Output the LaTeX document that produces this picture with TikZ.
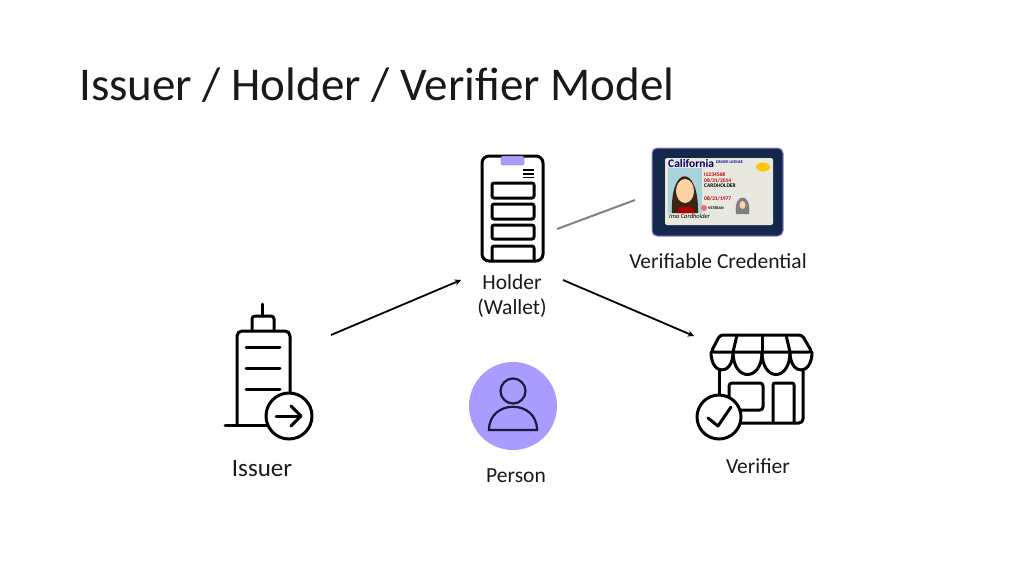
\documentclass[tikz,border=0pt]{standalone}
\usepackage{fontspec}
\setmainfont{Carlito}
\usetikzlibrary{arrows, positioning}
\definecolor{lavender}{HTML}{A99BFF}
\definecolor{navy}{HTML}{14284B}
\definecolor{inkline}{HTML}{1A1A3A}
\definecolor{cardface}{HTML}{E8E8DE}
\definecolor{photoblue}{HTML}{A9D3DC}
\tikzstyle{label} = [inner sep=0pt, align=center, text=black!90, font=\fontsize{21.5}{25}\selectfont]
\tikzstyle{icon} = [draw=black, line width=3pt, line join=round, line cap=round]
\tikzstyle{badge} = [icon, fill=white]
\tikzstyle{tiny} = [inner sep=0pt, anchor=west, font=\fontsize{5.5}{5.5}\selectfont\bfseries]
\tikzstyle{arrow} = [line width=1.8pt,->,>=stealth]
\begin{document}
\begin{tikzpicture}[x=1pt,y=-1pt]
    \useasboundingbox (0,0) rectangle (1024,576);
    \node (title) [inner sep=0pt, anchor=base west, text=black!90, font=\fontsize{47}{50}\selectfont] at (79,100) {Issuer / Holder / Verifier Model};
    % holder phone
    \draw [icon, rounded corners=7pt] (482,156) rectangle (543,261);
    \draw [draw=lavender!70!black, fill=lavender, rounded corners=2pt] (501,156) rectangle (524,165);
    \foreach \y in {170,174,177.5}
        \draw [black, line width=1.6pt] (523,\y) -- (534,\y);
    \foreach \y/\z in {183/198,204/219,225/239}
        \draw [icon, rounded corners=2pt] (492,\y) rectangle (534,\z);
    \draw [icon, rounded corners=2pt] (492,261) -- (492,246) -- (534,246) -- (534,261);
    \node (holder) [label] at (512,296) {Holder\\(Wallet)};
    % credential card
    \draw [draw=lavender!80!navy, fill=navy, line width=1pt, rounded corners=5pt] (652,148) rectangle (783,236);
    \fill [cardface, rounded corners=2pt] (665,158) rectangle (773,225);
    \fill [photoblue] (668,168) rectangle (702,213);
    \fill [black!70!brown] (672,213) .. controls (670,164) and (699,164) .. (698,213) -- cycle;
    \fill [red!70!black] (677,213) -- (679,207) -- (692,207) -- (695,213) -- cycle;
    \fill [orange!35!white] (685,191) ellipse (9 and 12);
    \fill [yellow!60!orange] (763,167) ellipse (7 and 4.5);
    \fill [black!50] (736,214) .. controls (733,192) and (752,192) .. (749,214) -- cycle;
    \fill [orange!35!white] (742.5,205) ellipse (3 and 4);
    \fill [red!60!white] (704,208) circle (3);
    \node (cardname) [tiny, text=blue!45!black, font=\fontsize{11.5}{11}\selectfont\bfseries] at (668,163.5) {California};
    \node (cardtype) [tiny, text=blue!60!black, font=\fontsize{4}{4}\selectfont\bfseries] at (716,162) {DRIVER LICENSE};
    \node (cardno) [tiny, text=red!70!black] at (704,175) {I1234568};
    \node (cardexp) [tiny, text=red!70!black] at (704,180.5) {08/31/2014};
    \node (cardholder) [tiny] at (704,186) {CARDHOLDER};
    \node (carddob) [tiny, text=red!70!black] at (704,199) {08/31/1977};
    \node (cardvet) [tiny, font=\fontsize{4}{4}\selectfont\bfseries] at (708,208) {VETERAN};
    \node (cardsign) [tiny, font=\fontsize{6.5}{6}\selectfont\itshape] at (669,216.5) {Ima Cardholder};
    \node (credential) [label] at (718,261) {Verifiable Credential};
    % issuer building
    \draw [icon] (262.7,304) -- (262.7,316);
    \draw [icon, rounded corners=3pt] (252,331) -- (252,316) -- (274,316) -- (274,331);
    \draw [icon, rounded corners=5pt] (237,425) -- (237,331) -- (290,331) -- (290,400);
    \draw [icon] (225,425) -- (270,425);
    \foreach \y in {347,368,389}
        \draw [icon] (246,\y) -- (280,\y);
    \draw [badge] (289,416) circle (23);
    \draw [icon] (276,416) -- (300,416);
    \draw [icon] (291,406) -- (301,416) -- (291,426);
    \node (issuer) [label, font=\fontsize{25}{28}\selectfont] at (262,469) {Issuer};
    % person
    \fill [lavender] (513,406) circle (44);
    \draw [inkline, line width=2.2pt] (513,391) circle (12.5);
    \draw [inkline, line width=2.2pt] (489,430) .. controls (489,399) and (537,399) .. (537,430) -- cycle;
    \node (person) [label] at (516,476) {Person};
    % verifier shop
    \draw [icon] (719,370) -- (719,400);
    \draw [icon, rounded corners=4pt] (803,370) -- (803,423) -- (735,423);
    \draw [icon, rounded corners=3pt] (729,400) -- (729,383) -- (763,383) -- (763,410) -- (735,410);
    \draw [icon, rounded corners=2pt] (773,423) -- (773,383) -- (794,383) -- (794,423);
    \draw [icon, rounded corners=3pt] (711,352) -- (720,335) -- (802,335) -- (812,352) -- cycle;
    \draw [icon] (737,335) -- (733,352);
    \draw [icon] (762,335) -- (762,352);
    \draw [icon] (786,335) -- (790,352);
    \draw [icon] (711,352) .. controls (711,376) and (733,376) .. (733,352);
    \draw [icon] (733,352) .. controls (733,382) and (762,382) .. (762,352);
    \draw [icon] (762,352) .. controls (762,382) and (790,382) .. (790,352);
    \draw [icon] (790,352) .. controls (790,376) and (812,376) .. (812,352);
    \draw [badge] (719,417) circle (22);
    \draw [icon] (708,418) -- (718,426) -- (731,407);
    \node (verifier) [label] at (758,466) {Verifier};
    % connectors
    \coordinate (issuerout) at (331,335);
    \coordinate (holderin) at (461,280);
    \coordinate (holderout) at (563,280);
    \coordinate (verifierin) at (694,336);
    \coordinate (phoneside) at (557,229);
    \coordinate (cardside) at (635,200);
    \draw [arrow] (issuerout) -- (holderin);
    \draw [arrow] (holderout) -- (verifierin);
    \draw [black!50, line width=2pt] (phoneside) -- (cardside);
\end{tikzpicture}
\end{document}
